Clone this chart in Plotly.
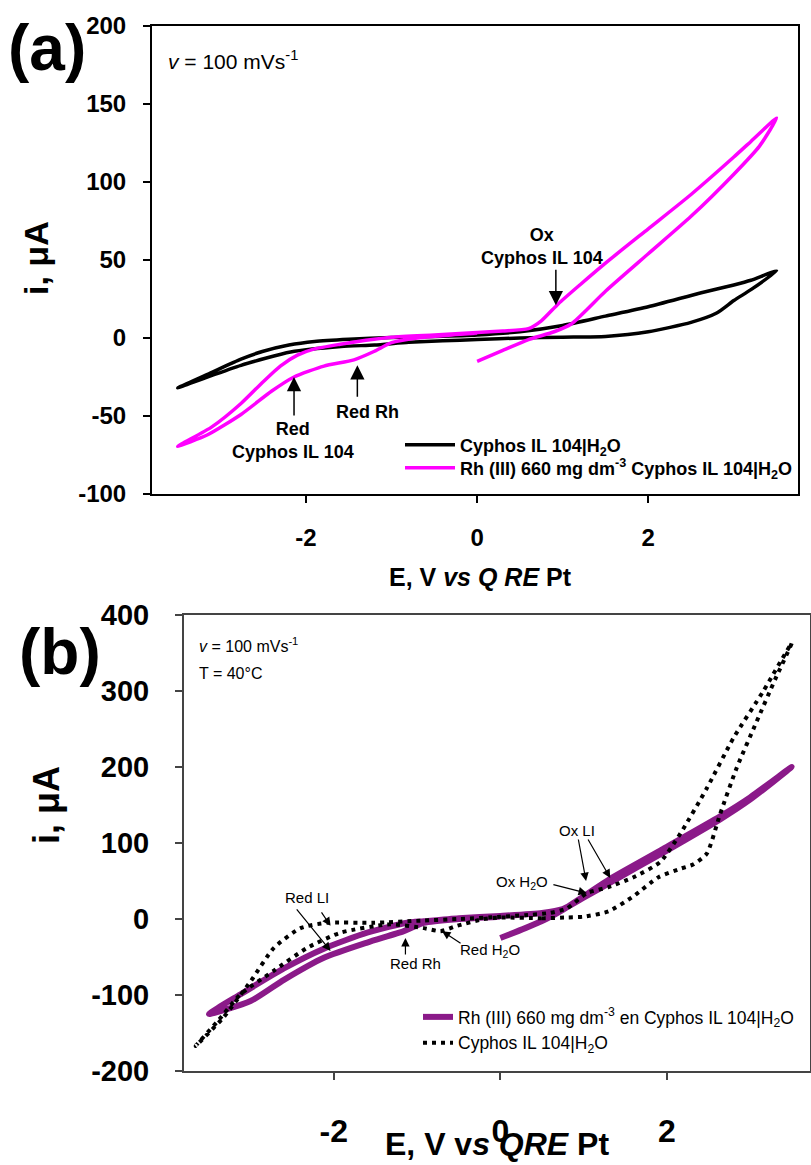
import plotly.graph_objects as go

W, H = 811, 1165

# ---------------- Panel (a) data ----------------
a_black_x = [0, 0.5, 1.0, 1.5, 2.0, 2.5, 2.8, 3.0, 3.2, 3.5,
             3.2, 3.0, 2.62, 2.0, 1.5, 1.0, 0.5, 0, -0.5, -1.0, -1.5, -1.9, -2.2, -2.5, -2.76, -3.1, -3.5,
             -3.2, -2.76, -2.18, -1.59, -1.2, -0.8, -0.4, 0]
a_black_y = [-1, 0, 0.5, 1, 4, 10, 16, 24, 31, 43,
             37, 34, 29, 20, 14, 8, 4, 2, 1, 0.3, -0.8, -2.2, -4.5, -8.5, -13.5, -22, -32,
             -26, -17.5, -9, -5.5, -4.5, -2.8, -1.8, -1]

a_rh_x = [0, 0.3, 0.6, 0.9, 1.1, 1.5, 2.0, 2.5, 3.0, 3.3, 3.5,
          3.2, 3.0, 2.5, 2.0, 1.5, 1.2, 0.95, 0.75, 0.6, 0.3, 0, -0.5, -1.0, -1.3, -1.6, -1.9, -2.1, -2.3,
          -2.5, -2.76, -3.1, -3.5,
          -3.15, -2.76, -2.4, -2.14, -1.79, -1.44, -1.2, -1.0, -0.7, -0.3, 0]
a_rh_y = [-15, -8, -1, 4, 9, 30, 54, 78, 105, 123, 141,
          126, 116, 92, 70, 48, 34, 22, 11, 6, 4.5, 3.5, 2, 0.5, -1.5, -4, -7, -11, -18,
          -28, -42, -57, -69.5,
          -62, -49, -34, -25, -18, -14, -8.5, -3, 0, 2, 3]

# ---------------- Panel (b) data ----------------
b_rh_x = [0, 0.3, 0.55, 0.75, 1.0, 1.32, 2.0, 2.64, 3.0, 3.5,
          3.0, 2.64, 2.0, 1.32, 1.0, 0.75, 0.5, 0, -0.5, -0.92, -1.12, -1.6, -2.12, -2.6, -3.12, -3.5,
          -3.0, -2.6, -2.12, -1.6, -1.16, -0.92, -0.5, 0]
b_rh_y = [-25, -12, 0, 12, 30, 53, 95, 135, 160, 200,
          157, 131, 90, 48, 28, 13, 8, 4, 1, -3, -5, -18, -39, -65, -99, -125,
          -108, -80, -51, -31, -16, -5, 0, 3]

b_il_x = [0, 0.5, 0.8, 1.0, 1.3, 1.6, 1.9, 2.16, 2.32, 2.48, 2.64, 2.84, 3.08, 3.3, 3.5,
          3.16, 2.8, 2.48, 2.16, 1.92, 1.6, 1.3, 1.04, 0.8, 0.6, 0.3, 0, -0.5, -0.92, -1.52, -2.08,
          -2.4, -2.72, -3.0, -3.33, -3.66,
          -3.4, -3.12, -2.72, -2.32, -1.92, -1.32, -0.92, -0.72, -0.52, -0.2, 0]
b_il_y = [2, 1, 2, 3, 10, 30, 55, 66, 72, 86, 138, 199, 260, 315, 363,
          300, 238, 172, 112, 75, 55, 42, 34, 14, 8, 5, 3, 0, -2, -5, -5,
          -12, -38, -82, -130, -167,
          -135, -99, -68, -38, -18, -7, -12, -16, -9, 0, 2]

# tick labels
a_xticks = [-2, 0, 2]
a_yticks = [-100, -50, 0, 50, 100, 150, 200]
b_xticks = [-2, 0, 2]
b_yticks = [-200, -100, 0, 100, 200, 300, 400]

FONT = "Liberation Sans, Arial, sans-serif"


def px(x):
    return x / W


def py(y):
    return 1 - y / H


def labels(vals):
    return [str(v) for v in vals]


fig = go.Figure()
fig.add_trace(go.Scatter(x=a_black_x, y=a_black_y, mode="lines",
                         line=dict(color="black", width=3.5, shape="spline", smoothing=0.6),
                         name="Cyphos IL 104|H<sub>2</sub>O", xaxis="x", yaxis="y", legend="legend"))
fig.add_trace(go.Scatter(x=a_rh_x, y=a_rh_y, mode="lines",
                         line=dict(color="#FF00FF", width=3.5, shape="spline", smoothing=0.6),
                         name="Rh (III) 660 mg dm<sup>-3</sup> Cyphos IL 104|H<sub>2</sub>O",
                         xaxis="x", yaxis="y", legend="legend3"))
fig.add_trace(go.Scatter(x=b_rh_x, y=b_rh_y, mode="lines",
                         line=dict(color="#8B1A89", width=6, shape="spline", smoothing=0.6),
                         name="Rh (III) 660 mg dm<sup>-3</sup> en Cyphos IL 104|H<sub>2</sub>O",
                         xaxis="x2", yaxis="y2", legend="legend2"))
fig.add_trace(go.Scatter(x=b_il_x, y=b_il_y, mode="lines",
                         line=dict(color="black", width=4, dash="4px,5px", shape="spline", smoothing=0.6),
                         name="Cyphos IL 104|H<sub>2</sub>O",
                         xaxis="x2", yaxis="y2", legend="legend2"))

axis_common = dict(showline=True, mirror=True, ticks="outside", ticklen=7, tickwidth=2,
                   showgrid=False, zeroline=False, automargin=False)

leg_a_font = dict(family=FONT, size=18, weight="bold")

fig.update_layout(
    width=W, height=H,
    margin=dict(l=0, r=0, t=0, b=0),
    paper_bgcolor="white", plot_bgcolor="white",
    font=dict(family=FONT, color="black"),
    xaxis=dict(domain=[px(152), px(798)], range=[-3.8, 3.75],
               tickvals=a_xticks, ticktext=labels(a_xticks),
               linecolor="black", linewidth=2, tickcolor="black",
               tickfont=dict(family=FONT, size=24, weight="bold"), ticklabelstandoff=14,
               anchor="y", **axis_common),
    yaxis=dict(domain=[py(494), py(26)], range=[-100, 200],
               tickvals=a_yticks, ticktext=labels(a_yticks),
               linecolor="black", linewidth=2, tickcolor="black",
               tickfont=dict(family=FONT, size=24, weight="bold"), ticklabelstandoff=12,
               anchor="x", **axis_common),
    xaxis2=dict(domain=[px(184), px(810)], range=[-3.8, 3.72],
                tickvals=b_xticks, ticktext=labels(b_xticks),
                linecolor="#444", linewidth=2, tickcolor="#444",
                tickfont=dict(family=FONT, size=32, weight="bold"), ticklabelstandoff=24,
                anchor="y2", **axis_common),
    yaxis2=dict(domain=[py(1071), py(615)], range=[-200, 400],
                tickvals=b_yticks, ticktext=labels(b_yticks),
                linecolor="#444", linewidth=2, tickcolor="#444",
                tickfont=dict(family=FONT, size=29, weight="bold"), ticklabelstandoff=20,
                anchor="x2", **axis_common),
    legend=dict(x=px(400), y=py(445), xanchor="left", yanchor="middle",
                font=leg_a_font, bgcolor="rgba(0,0,0,0)", itemwidth=50),
    legend3=dict(x=px(400), y=py(468), xanchor="left", yanchor="middle",
                 font=leg_a_font, bgcolor="rgba(0,0,0,0)", itemwidth=50),
    legend2=dict(x=px(418), y=py(999), xanchor="left", yanchor="top",
                 font=dict(family=FONT, size=17.5), bgcolor="rgba(0,0,0,0)",
                 itemwidth=30, tracegroupgap=0),
    showlegend=True,
)

ann = []


def ptext(x, y, text, size, bold=False, xanchor="center", yanchor="middle", textangle=0):
    ann.append(dict(x=px(x), y=py(y), xref="paper", yref="paper", text=text, showarrow=False,
                    xanchor=xanchor, yanchor=yanchor, textangle=textangle,
                    font=dict(family=FONT, size=size, color="black", weight="bold" if bold else "normal")))


def arrow(x, y, ax, ay, xr, yr, width=1.5, size=1.3):
    ann.append(dict(x=x, y=y, xref=xr, yref=yr, ax=ax, ay=ay, axref="pixel", ayref="pixel",
                    text="", showarrow=True, arrowhead=2, arrowsize=size, arrowwidth=width,
                    arrowcolor="black"))


# panel labels
ptext(47, 48, "(a)", 64, bold=True)
ptext(60, 652, "(b)", 64, bold=True)

# axis titles
ptext(480, 577, "E, V <i>vs Q RE</i> Pt", 25, bold=True)
ptext(36, 258, "i, μA", 34, bold=True, textangle=-90)
ptext(497, 1144, "E, V v<i>s QRE</i> Pt", 32, bold=True)
ptext(46, 805, "i, μA", 36, bold=True, textangle=-90)

# panel (a) texts
ptext(166, 60, "<i>v</i> = 100 mVs<sup>-1</sup>", 21, xanchor="left")
ptext(542, 247, "Ox<br>Cyphos IL 104", 18, bold=True)
ptext(293, 440, "Red<br>Cyphos IL 104", 18, bold=True)
ptext(367, 412, "Red Rh", 18, bold=True)
arrow(0.92, 21, 0, -37, "x", "y", 1.5, 1.9)
arrow(-2.14, -25, 0, 40, "x", "y", 1.5, 1.9)
arrow(-1.40, -17.5, 0, 33, "x", "y", 1.5, 1.9)

# panel (b) texts
ptext(197, 645, "<i>v</i> = 100 mVs<sup>-1</sup>", 16, xanchor="left")
ptext(197, 673, "T = 40°C", 16, xanchor="left")
ptext(307, 897, "Red LI", 15)
ptext(415, 963, "Red Rh", 15)
ptext(490, 950, "Red H<sub>2</sub>O", 15)
ptext(522, 882, "Ox H<sub>2</sub>O", 15)
ptext(577, 830, "Ox LI", 15)
arrow(-2.04, -42, -35, -43, "x2", "y2", 1.2, 1.4)
arrow(-2.04, -9, -10, -15, "x2", "y2", 1.2, 1.4)
arrow(-1.14, -25, 0, 18, "x2", "y2", 1.2, 1.4)
arrow(-0.70, -16, 20, 13, "x2", "y2", 1.2, 1.4)
arrow(1.04, 34, -35, -9, "x2", "y2", 1.2, 1.4)
arrow(1.03, 50, -8, -43, "x2", "y2", 1.2, 1.4)
arrow(1.32, 54, -23, -40, "x2", "y2", 1.2, 1.4)

fig.update_layout(annotations=ann)

fig.write_html("out.html", config={"displayModeBar": False},
               post_script="document.body.style.margin='0';")
